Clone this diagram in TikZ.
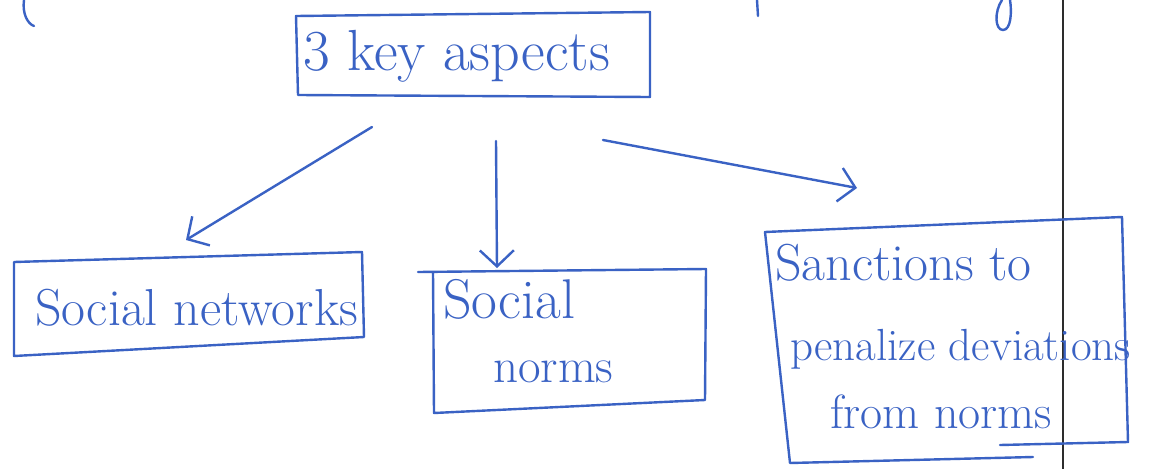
\documentclass[tikz,border=0pt]{standalone}
\usetikzlibrary{arrows.meta}
\definecolor{ink}{RGB}{58,98,196}
\definecolor{rule}{RGB}{45,45,45}
\newcommand{\handsize}[1]{\fontsize{#1}{#1}\selectfont}
\begin{document}
\begin{tikzpicture}[x=1pt,y=-1pt,
  pen/.style={draw=ink,line width=2.4pt,line cap=round,line join=round},
  hand/.style={text=ink,anchor=base west,inner sep=0pt},
  link/.style={pen,-{Straight Barb[length=16pt,width=34pt,line width=2.4pt]}}]
\useasboundingbox (0,0) rectangle (1152,469);
\fill[white] (0,0) rectangle (1152,469);

% margin rule of the page
\draw[rule,line width=2pt] (1063,0) -- (1063,469);

% stray strokes of the line above
\draw[pen] (24,0) .. controls (22,14) and (28,24) .. (34,26);
\draw[pen] (757,0) -- (758,16);
\draw[pen] (1002,0) .. controls (994,12) and (995,30) .. (1003,30) .. controls (1011,30) and (1012,12) .. (1010,0);

% headline
\node[hand,font=\handsize{58}] (key) at (303,70) {3 key aspects};
\draw[pen] (296,16) -- (650,12) -- (650,97) -- (298,95) -- cycle;

% three aspects
\node[hand,font=\handsize{52}] (net) at (35,325) {Social networks};
\draw[pen] (14,262) -- (362,252) -- (364,337) -- (14,356) -- cycle;

\node[hand,font=\handsize{56}] (soc) at (443,318) {Social};
\node[hand,font=\handsize{49}] (nrm) at (493,382) {norms};
\draw[pen] (418,272) -- (706,269) -- (705,400) -- (434,413) -- (433,272);

\node[hand,font=\handsize{52}] (san) at (775,280) {Sanctions to};
\node[hand,font=\handsize{45}] (pen) at (790,360) {penalize deviations};
\node[hand,font=\handsize{48}] (frm) at (830,428) {from norms};
\draw[pen] (1033,457) -- (790,463) -- (765,232) -- (1122,217) -- (1128,442) -- (1000,445);

% arrows
\coordinate (a1s) at (372,127); \coordinate (a1e) at (186,240);
\coordinate (a2s) at (496,141); \coordinate (a2e) at (497,268);
\coordinate (a3s) at (603,140); \coordinate (a3e) at (857,188);
\draw[link] (a1s) -- (a1e);
\draw[link] (a2s) -- (a2e);
\draw[link] (a3s) -- (a3e);
\end{tikzpicture}
\end{document}
